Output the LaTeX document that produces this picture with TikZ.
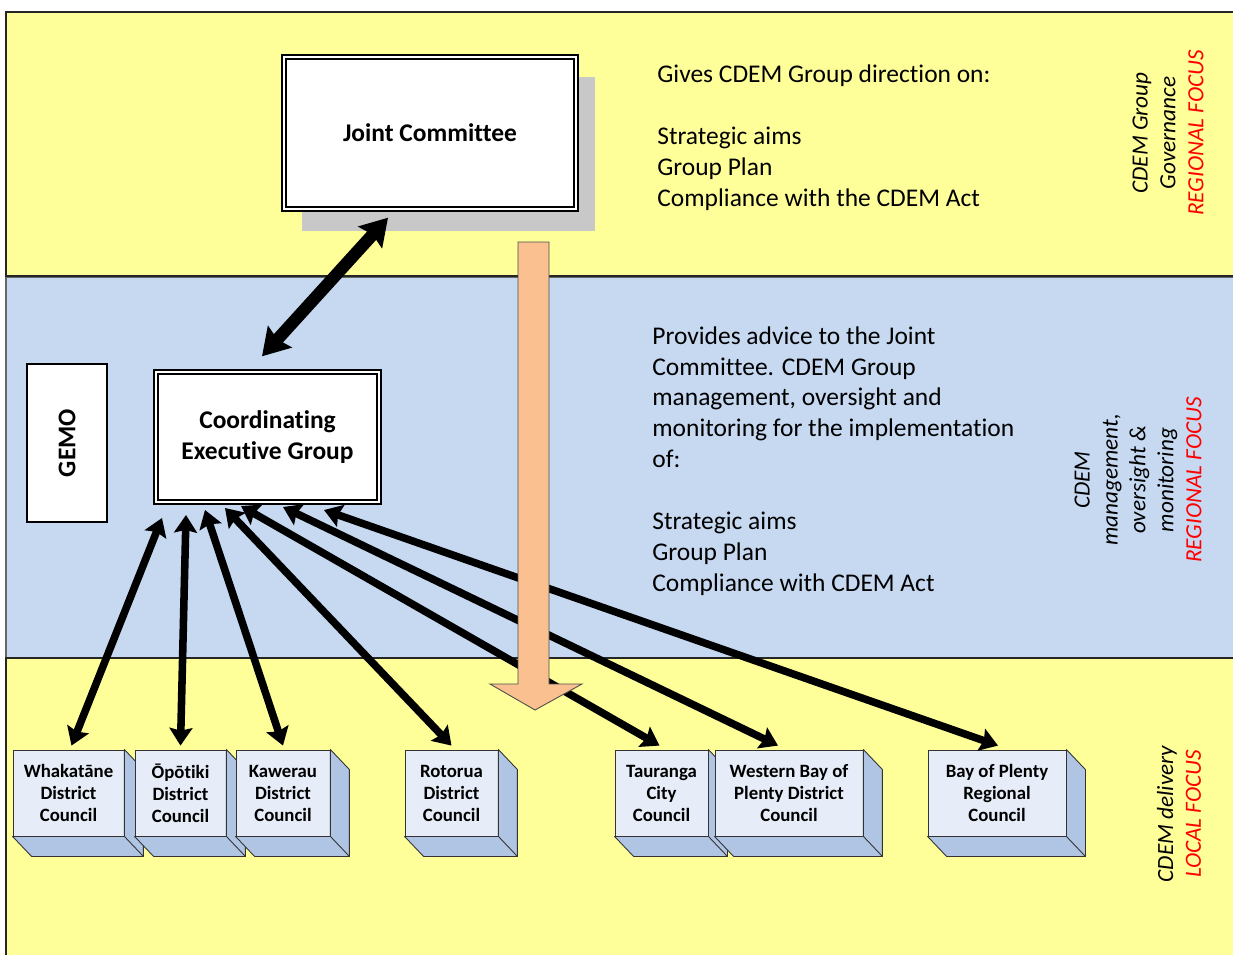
\documentclass[tikz,border=0pt]{standalone}
\usepackage{fontspec}
\setmainfont{Carlito}[Ligatures=NoCommon]
\usetikzlibrary{arrows.meta, positioning, calc}
\definecolor{bandyellow}{HTML}{FFFF99}
\definecolor{bandblue}{HTML}{C6D9F1}
\definecolor{peach}{HTML}{FAC090}
\definecolor{shadowgrey}{HTML}{C8C8C8}
\definecolor{cubefront}{HTML}{E6EDF8}
\definecolor{cubeside}{HTML}{B0C4E3}
\tikzset{%
	band/.style={draw=black!85, line width=0.7pt},
	mainbox/.style={
		draw,
		double,
		double distance=1.3pt,
		line width=0.8pt,
		fill=white,
		align=center,
		inner sep=0pt,
		font=\fontsize{14.5}{17.6}\selectfont\bfseries
	},
	council/.style={
		draw=black!80,
		fill=cubefront,
		line width=0.5pt,
		minimum height=1.72cm,
		align=center,
		inner sep=0pt,
		font=\fontsize{10.7}{12.5}\selectfont\bfseries
	},
	councilside/.style={draw=black!80, fill=cubeside, line width=0.5pt, line join=round},
	link/.style={line width=4.3pt, {Stealth[length=10pt,width=13pt,inset=1.5pt]}-{Stealth[length=10pt,width=13pt,inset=1.5pt]}},
	biglink/.style={line width=7pt, {Stealth[length=15pt,width=18pt,inset=2pt]}-{Stealth[length=15pt,width=18pt,inset=2pt]}},
	focus/.style={rotate=90, align=center, inner sep=0pt, font=\fontsize{13.2}{15.9}\selectfont\itshape},
	note/.style={anchor=west, align=left, inner sep=0pt, font=\fontsize{14.5}{17.6}\selectfont},
}

\begin{document}
\begin{tikzpicture}[x=0.02cm, y=-0.02cm]
	\useasboundingbox (0,0) rectangle (1233,954);
	\clip (0,0) rectangle (1233,954);
	
	% Bands
	\filldraw[band, fill=bandyellow] (6,12) rectangle (1240,276);
	\filldraw[band, fill=bandblue, draw=black!60] (6,277.5) rectangle (1240,658);
	\filldraw[band, fill=bandyellow] (6,658) rectangle (1240,960);
	
	% Joint Committee with its shadow
	\fill[shadowgrey] (302,77) rectangle (595,231);
	\node[mainbox, minimum width=5.84cm, minimum height=3.04cm] (jc) at (430,133) {Joint Committee};
	
	% Coordinating Executive Group and GEMO
	\node[mainbox, minimum width=4.46cm, minimum height=2.6cm] (ceg) at (267.5,437) {Coordinating\\Executive Group};
	\node[draw, fill=white, line width=0.6pt, rotate=90, minimum width=3.16cm, minimum height=1.6cm, font=\fontsize{14.5}{17.6}\selectfont\bfseries] (gemo) at (67,443) {GEMO};
	
	% Councils
	\foreach \nm/\cx/\bw/\txt in {wha/68.5/2.22/{Whakatāne\\District\\Council}, opo/180.5/1.82/{Ōpōtiki\\District\\Council}, kaw/283/1.88/{Kawerau\\District\\Council}, rot/451.5/1.86/{Rotorua\\District\\Council}, tau/661.5/1.86/{Tauranga\\City\\Council}, wbp/789/2.96/{Western Bay of\\Plenty District\\Council}, bop/997/2.76/{Bay of Plenty\\Regional\\Council}}{
		\node[council, minimum width=\bw cm] (\nm) at (\cx,793) {\txt};
		\filldraw[councilside] (\nm.north east) -- ++(19,20) -- ($(\nm.south east)+(19,20)$) -- ($(\nm.south west)+(19,20)$) -- (\nm.south west) -- (\nm.south east) -- cycle;
		\draw[councilside] (\nm.south east) -- ++(19,20);
	}
	
	% Arrow ends under the CEG
	\coordinate (w1) at (162,518);
	\coordinate (o1) at (186,515);
	\coordinate (k1) at (205,510);
	\coordinate (r1) at (225,508);
	\coordinate (t1) at (241,506);
	\coordinate (b1) at (283,507);
	\coordinate (p1) at (324,510);
	
	% Links
	\foreach \from/\to/\dx in {w1/wha/3, o1/opo/0, k1/kaw/0, r1/rot/0, t1/tau/-2, b1/wbp/-11, p1/bop/1}
		\draw[link] (\from) -- ([xshift=\dx*0.02cm, yshift=0.08cm]\to.north);
	\draw[biglink] ([xshift=-0.84cm, yshift=-0.16cm]jc.south) -- ([xshift=-0.11cm, yshift=0.3cm]ceg.north);
	
	% Direction arrow
	\filldraw[fill=peach, draw=black!70, line width=0.5pt] (518,242) -- (549,242) -- (549,684) -- (582,684) -- (535,710) -- (490,684) -- (518,684) -- cycle;
	
	% Texts
	\node[note] (direction) at (657,137.5) {Gives CDEM Group direction on:\\[17.6pt]Strategic aims\\Group Plan\\Compliance with the CDEM Act};
	\node[note] (advice) at (652,461) {Provides advice to the Joint\\Committee. CDEM Group\\management, oversight and\\monitoring for the implementation\\of:\\[17.6pt]Strategic aims\\Group Plan\\Compliance with CDEM Act};
	
	\node[focus] (govern) at (1168,133) {CDEM Group\\Governance\\\textcolor{red}{REGIONAL FOCUS}};
	\node[focus] (manage) at (1138,480) {CDEM\\management,\\oversight \&\\monitoring\\\textcolor{red}{REGIONAL FOCUS}};
	\node[focus] (deliver) at (1179,814) {CDEM delivery\\\textcolor{red}{LOCAL FOCUS}};
\end{tikzpicture}
\end{document}
